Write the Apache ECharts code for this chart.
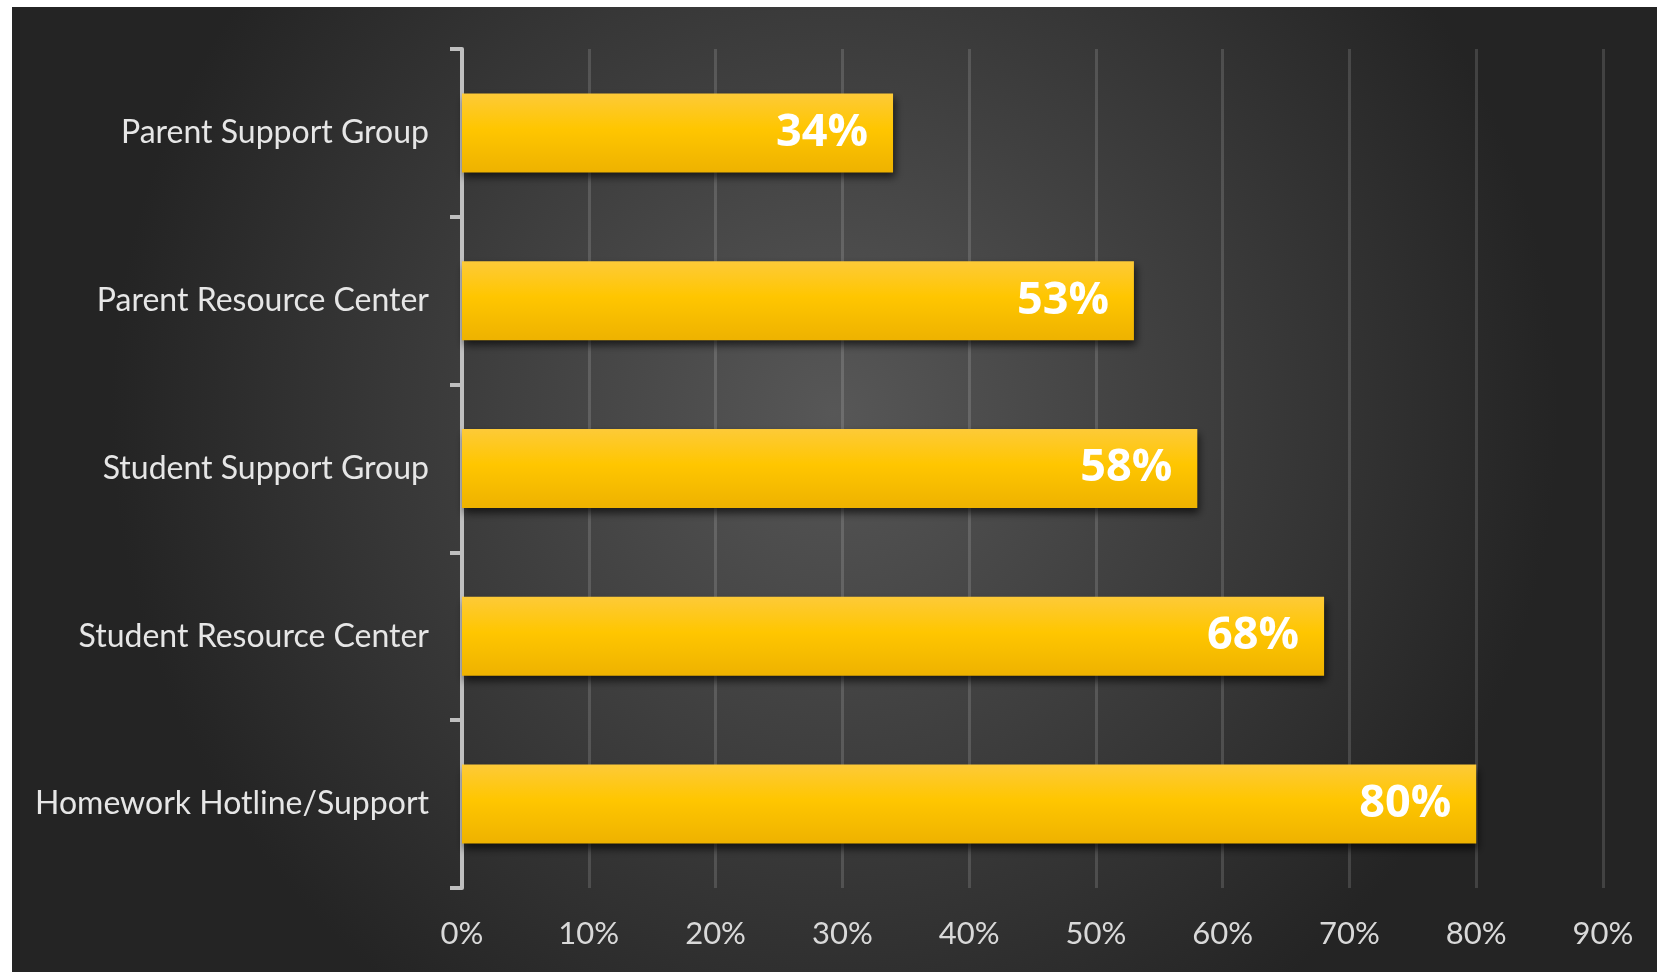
<!DOCTYPE html>
<html>
<head>
<meta charset="utf-8">
<script src="https://cdn.jsdelivr.net/npm/echarts@6/dist/echarts.min.js"></script>
<style>
html,body{margin:0;padding:0;background:#ffffff;width:1657px;height:972px;overflow:hidden;}
#c{position:absolute;left:12px;top:7px;width:1645px;height:965px;}
</style>
</head>
<body>
<div id="c"></div>
<script>
const categories = ['Parent Support Group','Parent Resource Center','Student Support Group','Student Resource Center','Homework Hotline/Support'];
const values = [34, 53, 58, 68, 80];
const tickMax = 90;
const tickInterval = 10;

const chart = echarts.init(document.getElementById('c'));
chart.setOption({
  backgroundColor: {
    type: 'radial', x: 0.5, y: 0.42, r: 0.75,
    colorStops: [
      {offset: 0, color: '#575757'},
      {offset: 0.55, color: '#3b3b3b'},
      {offset: 1, color: '#242424'}
    ]
  },
  animation: false,
  grid: {left: 450, right: 54, top: 42, bottom: 84, containLabel: false},
  xAxis: {
    type: 'value', min: 0, max: tickMax, interval: tickInterval,
    axisLine: {show: false},
    axisTick: {show: false},
    splitLine: {lineStyle: {color: 'rgba(255,255,255,0.14)', width: 3}},
    axisLabel: {
      formatter: v => v + '%', color: '#d9d9d9', fontSize: 31,
      fontFamily: 'Lato, "Open Sans", sans-serif', margin: 30
    }
  },
  yAxis: {
    type: 'category', data: categories, inverse: true,
    axisLine: {show: true, lineStyle: {color: '#bfbfbf', width: 4}},
    axisTick: {show: true, length: 12, lineStyle: {color: '#bfbfbf', width: 4}},
    axisLabel: {
      color: '#e6e6e6', fontSize: 32, margin: 33,
      fontFamily: 'Lato, "Open Sans", sans-serif'
    }
  },
  series: [{
    type: 'bar', data: values, barWidth: 79,
    itemStyle: {
      color: {
        type: 'linear', x: 0, y: 0, x2: 0, y2: 1,
        colorStops: [
          {offset: 0, color: '#fdca38'},
          {offset: 0.45, color: '#ffc600'},
          {offset: 1, color: '#eeb200'}
        ]
      },
      shadowColor: 'rgba(0,0,0,0.65)', shadowBlur: 8, shadowOffsetY: 5, shadowOffsetX: 2
    },
    label: {
      show: true, position: 'insideRight', distance: 25,
      formatter: p => p.value + '%',
      color: '#ffffff', fontSize: 45, fontWeight: 'bold',
      fontFamily: '"Open Sans", Lato, sans-serif'
    }
  }]
});
</script>
</body>
</html>
